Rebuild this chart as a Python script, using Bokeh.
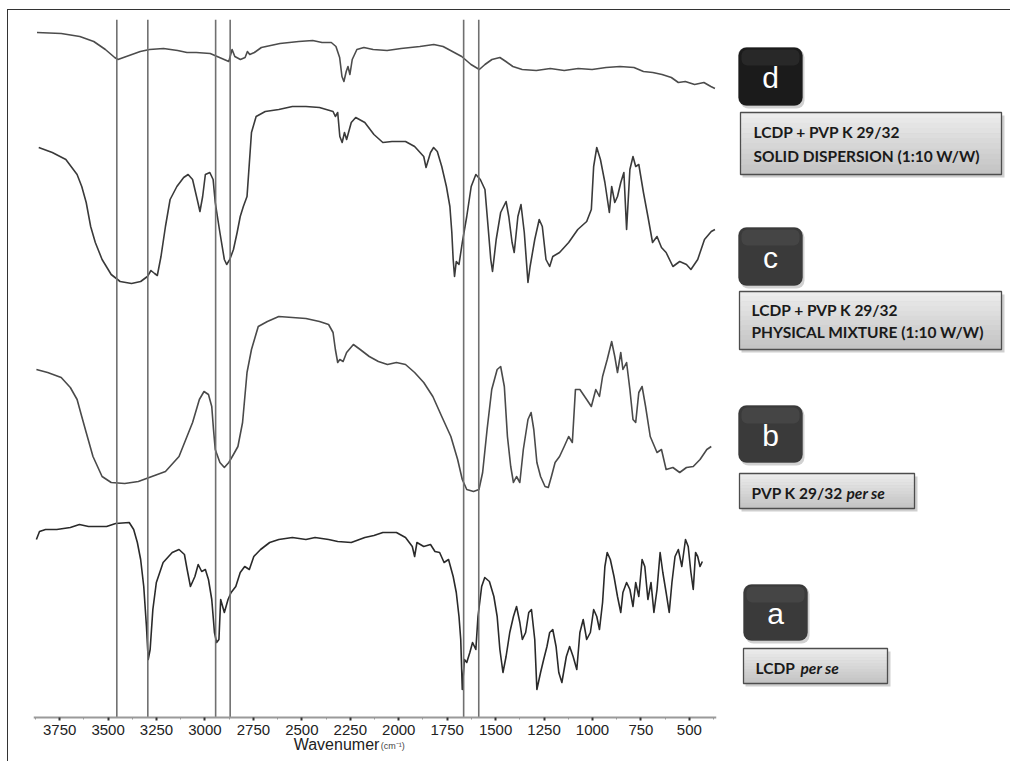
from bokeh.plotting import figure
from bokeh.models import Range1d, Label, BoxAnnotation, FixedTicker
from bokeh.layouts import row
from bokeh.embed import file_html
from bokeh.resources import INLINE

# ---------------- data ----------------
# a : LCDP per se
wn_a = [3870, 3854, 3823, 3765, 3695, 3648, 3601, 3555, 3508, 3461, 3391, 3368, 3349, 3332, 3316,
        3302, 3293, 3283, 3269, 3251, 3216, 3169, 3134, 3106, 3092, 3075, 3052, 3035, 3017, 2998,
        2982, 2965, 2951, 2940, 2928, 2919, 2900, 2881, 2865, 2841, 2818, 2795, 2771, 2748, 2713,
        2666, 2619, 2549, 2479, 2432, 2362, 2315, 2245, 2175, 2128, 2082, 2012, 1965, 1930, 1918,
        1906, 1871, 1836, 1813, 1789, 1766, 1743, 1719, 1703, 1689, 1680, 1672, 1661, 1649, 1633,
        1619, 1602, 1591, 1572, 1556, 1532, 1509, 1492, 1478, 1462, 1446, 1427, 1408, 1392, 1375,
        1362, 1345, 1329, 1315, 1298, 1287, 1268, 1252, 1235, 1221, 1205, 1188, 1174, 1158, 1135,
        1118, 1100, 1081, 1065, 1048, 1030, 1011, 994, 978, 964, 948, 936, 924, 908, 889, 871, 854,
        843, 824, 807, 791, 777, 761, 744, 730, 714, 698, 683, 667, 651, 637, 620, 604, 590, 574,
        557, 539, 520, 506, 492, 480, 468, 457, 445, 433]
t_a = [178, 186, 188, 188, 190, 193, 191, 191, 191, 194, 195, 188, 175, 158, 131,
       91, 58, 68, 108, 135, 155, 165, 168, 163, 148, 131, 141, 153, 146, 148,
       138, 118, 85, 75, 78, 118, 105, 118, 125, 131, 145, 151, 148, 161, 168,
       175, 178, 180, 178, 180, 178, 176, 175, 180, 182, 185, 185, 180, 171, 161,
       175, 171, 173, 166, 165, 155, 158, 141, 125, 101, 78, 28, 58, 55, 65,
       75, 68, 101, 131, 140, 136, 121, 101, 68, 45, 61, 85, 101, 111, 95,
       78, 85, 105, 108, 78, 28, 45, 58, 71, 85, 88, 71, 45, 35, 61,
       71, 61, 48, 85, 98, 78, 85, 108, 101, 88, 115, 151, 165, 158, 141, 121, 105,
       125, 135, 128, 111, 135, 121, 158, 151, 118, 135, 105, 128, 165, 145, 125, 105, 135, 161,
       168, 151, 178, 171, 145, 128, 165, 161, 151, 156]

# b : PVP K 29/32 per se
wn_b = [3870, 3812, 3742, 3695, 3660, 3636, 3613, 3578, 3531, 3484, 3414, 3344, 3274, 3204, 3134,
        3064, 3029, 3005, 2982, 2965, 2956, 2947, 2923, 2900, 2877, 2853, 2830, 2806, 2783, 2760,
        2725, 2678, 2619, 2549, 2479, 2409, 2362, 2339, 2327, 2315, 2304, 2287, 2269, 2234, 2199,
        2152, 2105, 2058, 2012, 1965, 1918, 1871, 1824, 1778, 1731, 1696, 1672, 1649, 1614, 1586,
        1567, 1544, 1520, 1492, 1474, 1455, 1439, 1422, 1408, 1392, 1375, 1357, 1333, 1317, 1303,
        1287, 1268, 1245, 1228, 1212, 1193, 1170, 1146, 1123, 1104, 1088, 1065, 1030, 1006, 983,
        964, 948, 924, 901, 885, 871, 854, 843, 824, 807, 791, 777, 761, 744, 726, 702, 667, 644,
        620, 585, 550, 515, 480, 445, 410, 387]
t_b = [348, 345, 340, 330, 318, 301, 285, 261, 241, 235, 234, 236, 241, 246, 261,
       295, 318, 326, 323, 311, 288, 268, 255, 250, 255, 263, 271, 295, 345, 368,
       391, 396, 401, 400, 399, 396, 393, 385, 368, 355, 358, 356, 365, 373, 368,
       361, 356, 353, 355, 353, 345, 335, 321, 301, 281, 258, 238, 228, 226, 228,
       245, 288, 328, 348, 351, 331, 281, 251, 235, 241, 235, 268, 298, 305, 288,
       255, 241, 231, 230, 241, 255, 261, 271, 281, 275, 328, 328, 318, 311, 328,
       321, 341, 358, 376, 361, 345, 365, 348, 355, 328, 298, 295, 325, 331, 311, 281, 265, 268,
       248, 250, 245, 250, 251, 258, 268, 271]

# c : LCDP + PVP K 29/32 physical mixture (1:10 w/w)
wn_c = [3858, 3788, 3718, 3660, 3636, 3613, 3590, 3566, 3531, 3484, 3438, 3379, 3332, 3297, 3279,
        3260, 3246, 3227, 3204, 3180, 3145, 3110, 3087, 3064, 3040, 3026, 3012, 2998, 2975, 2958,
        2947, 2923, 2900, 2888, 2872, 2853, 2834, 2818, 2802, 2783, 2760, 2736, 2689, 2619, 2549,
        2479, 2409, 2339, 2327, 2315, 2304, 2292, 2280, 2269, 2245, 2222, 2175, 2128, 2082, 2035,
        1965, 1918, 1871, 1859, 1836, 1820, 1801, 1778, 1754, 1736, 1726, 1719, 1712, 1703, 1689,
        1672, 1649, 1626, 1602, 1579, 1555, 1539, 1525, 1516, 1497, 1474, 1446, 1432, 1415, 1404,
        1385, 1369, 1352, 1333, 1322, 1298, 1275, 1259, 1240, 1221, 1205, 1170, 1123, 1076, 1030,
        1006, 994, 978, 959, 936, 913, 901, 885, 871, 854, 838, 824, 807, 791, 777, 761, 737, 714,
        690, 667, 644, 620, 585, 550, 515, 492, 457, 422, 387, 368]
t_c = [570, 565, 558, 543, 531, 515, 491, 475, 458, 443, 436, 434, 436, 441, 447,
       444, 442, 461, 491, 518, 531, 540, 543, 538, 518, 506, 521, 543, 545, 538,
       515, 485, 458, 453, 458, 468, 485, 501, 511, 521, 585, 601, 606, 608, 611,
       611, 610, 606, 601, 605, 581, 575, 585, 578, 595, 600, 595, 583, 575, 576,
       576, 571, 561, 550, 565, 570, 566, 551, 531, 511, 485, 458, 441, 456, 453,
       475, 501, 531, 543, 538, 528, 491, 458, 446, 478, 505, 516, 501, 475, 465,
       501, 513, 485, 435, 451, 478, 498, 491, 458, 451, 461, 465, 475, 488, 496,
       508, 551, 570, 558, 535, 505, 531, 515, 521, 535, 545, 488, 548, 561, 551, 553, 525, 501,
       475, 481, 470, 465, 451, 456, 453, 448, 458, 478, 486, 488]

# d : LCDP + PVP K 29/32 solid dispersion (1:10 w/w)
wn_d = [3867, 3742, 3646, 3574, 3514, 3466, 3449, 3406, 3334, 3286, 3214, 3141, 3093, 3045, 2973,
        2937, 2901, 2877, 2860, 2846, 2817, 2793, 2781, 2769, 2745, 2709, 2613, 2516, 2444, 2396,
        2348, 2324, 2305, 2293, 2283, 2271, 2262, 2252, 2240, 2216, 2180, 2132, 2060, 1988, 1891,
        1819, 1771, 1723, 1675, 1627, 1584, 1555, 1519, 1478, 1447, 1411, 1363, 1290, 1218, 1146,
        1074, 1002, 930, 858, 786, 737, 689, 641, 593, 557, 521, 473, 425, 389, 368]
t_d = [685, 684, 681, 676, 668, 660, 658, 661, 666, 668, 669, 667, 665, 665, 664,
       661, 658, 656, 668, 661, 658, 660, 666, 663, 665, 670, 674, 676, 677, 675,
       675, 671, 660, 641, 636, 646, 651, 643, 658, 668, 670, 668, 667, 669, 671,
       673, 671, 666, 661, 653, 648, 653, 658, 660, 656, 651, 648, 647, 649, 647,
       649, 648, 650, 651, 650, 646, 645, 643, 640, 635, 636, 633, 635, 631, 629]

# marked band positions (cm-1)
band_marks = [3455, 3295, 2945, 2870, 1665, 1587]

# x-axis ticks
tick_values = [3750, 3500, 3250, 3000, 2750, 2500, 2250, 2000, 1750, 1500, 1250, 1000, 750, 500]
minor_values = [3875, 3625, 3375, 3125, 2875, 2625, 2375, 2125, 1875, 1625, 1375, 1125, 875, 625, 375]

# axis title
x_title = "Wavenumer"
x_unit = "(cm⁻¹)"

# legend entries
legend_letters = ["d", "c", "b", "a"]
legend_lines = [
    ["LCDP + PVP  K 29/32", "SOLID DISPERSION (1:10 W/W)"],
    ["LCDP + PVP  K 29/32", "PHYSICAL MIXTURE  (1:10 W/W)"],
    ["PVP K 29/32"],
    ["LCDP"],
]
legend_italic = ["", "", "per se", "per se"]

# ---------------- spectra panel ----------------
FIG_H = 751
TOP = 9
Y_TOP = 698      # top of the plotting area (offset units)
Y_BOTTOM = -44   # room below the baseline for tick labels and the axis title

pA = figure(width=712, height=FIG_H, x_range=Range1d(3885, 360), y_range=Range1d(Y_BOTTOM, Y_TOP),
            output_backend="svg", toolbar_location=None,
            min_border_left=25, min_border_right=4, min_border_top=TOP, min_border_bottom=0,
            y_axis_location=None)
pA.grid.visible = False
pA.outline_line_color = None
pA.background_fill_color = "white"

trace_colors = ["#2a2a2a", "#4a4a4a", "#3a3a3a", "#4c4c4c"]
for xs, ys, col in [(wn_a, t_a, trace_colors[0]), (wn_b, t_b, trace_colors[1]),
                    (wn_c, t_c, trace_colors[2]), (wn_d, t_d, trace_colors[3])]:
    pA.line(xs, ys, line_color=col, line_width=1.6, line_join="round")

pA.segment(x0=band_marks, y0=[0] * len(band_marks), x1=band_marks, y1=[Y_TOP] * len(band_marks),
           line_color="#707070", line_width=1.6)

ax = pA.xaxis[0]
ax.fixed_location = 0
ax.ticker = FixedTicker(ticks=tick_values, minor_ticks=minor_values)
ax.axis_line_color = "#9a9a9a"
ax.axis_line_width = 2
ax.major_tick_line_color = "#333333"
ax.major_tick_line_width = 2
ax.major_tick_out = 3
ax.major_tick_in = 0
ax.minor_tick_line_color = "#999999"
ax.minor_tick_out = 2
ax.minor_tick_in = 0
ax.major_label_standoff = 4
ax.major_label_text_font = "Liberation Sans"
ax.major_label_text_font_size = "15px"
ax.major_label_text_color = "#222222"

pA.add_layout(Label(x=2321, y=-27, text=x_title, text_align="center", text_baseline="middle",
                    text_font="Liberation Sans", text_font_size="16px", text_color="#222222"))
pA.add_layout(Label(x=2093, y=-28, text=x_unit, text_align="left", text_baseline="middle",
                    text_font="Liberation Sans", text_font_size="9px", text_color="#444444"))

# ---------------- legend panel ----------------
pB = figure(width=290, height=FIG_H, x_range=Range1d(720, 1010), y_range=Range1d(761, 19),
            output_backend="svg", toolbar_location=None,
            min_border_left=0, min_border_right=0, min_border_top=TOP, min_border_bottom=0,
            x_axis_location=None, y_axis_location=None)
pB.grid.visible = False
pB.outline_line_color = None

dark_boxes = [(738, 802, 47, 105), (738, 802, 227, 285), (738, 802, 405, 462), (743, 807, 584, 640)]
dark_fill = ["#1b1b1b", "#3a3a3a", "#3a3a3a", "#3a3a3a"]
label_boxes = [(740, 1001, 112, 174), (739, 1001, 291, 349), (739, 914, 473, 508), (743, 887, 648, 683)]
text_rows = [[131, 155], [309, 331], [492], [667]]
text_left = [753, 751, 751, 755]
italic_left = [None, None, 846, 800]

for i in range(4):
    l, r, t, b = dark_boxes[i]
    pB.add_layout(BoxAnnotation(left=l + 2, right=r + 2, top=t + 2, bottom=b + 3, fill_color="#bdbdbd",
                                fill_alpha=0.7, line_color=None, border_radius=8))
    pB.add_layout(BoxAnnotation(left=l, right=r, top=t, bottom=b, fill_color=dark_fill[i], fill_alpha=1,
                                line_color="#222222", line_width=1, border_radius=8))
    pB.add_layout(BoxAnnotation(left=l + 3, right=r - 3, top=t + 2, bottom=t + 18,
                                fill_color="#ffffff", fill_alpha=0.06, line_color=None, border_radius=6))
    pB.add_layout(Label(x=(l + r) / 2, y=(t + b) / 2 + 1, text=legend_letters[i], text_align="center",
                        text_baseline="middle", text_font="Liberation Sans", text_font_size="30px",
                        text_color="white"))

    l, r, t, b = label_boxes[i]
    pB.quad(left=[l + 2], right=[r + 3], top=[t + 3], bottom=[b + 3], fill_color="#cfcfcf",
            line_color=None)
    n = 12
    h = (b - t) / n
    for k in range(n):
        g = int(236 - (236 - 196) * k / (n - 1))
        pB.quad(left=[l], right=[r], top=[t + k * h], bottom=[t + (k + 1) * h + 0.3],
                fill_color="#%02x%02x%02x" % (g, g, g), line_color=None)
    pB.quad(left=[l], right=[r], top=[t], bottom=[b], fill_color=None, line_color="#4d4d4d",
            line_width=1.3)
    for j, yy in enumerate(text_rows[i]):
        pB.add_layout(Label(x=text_left[i], y=yy, text=legend_lines[i][j], text_align="left",
                            text_baseline="middle", text_font="Lato", text_font_size="15.5px",
                            text_font_style="bold", text_color="#1a1a1a"))
    if italic_left[i] is not None:
        pB.add_layout(Label(x=italic_left[i], y=text_rows[i][0], text=legend_italic[i], text_align="left",
                            text_baseline="middle", text_font="Lato", text_font_size="15.5px",
                            text_font_style="bold italic", text_color="#1a1a1a"))

layout = row(pA, pB, margin=(9, 0, 0, 7),
             styles={"border-top": "1px solid #333333", "border-left": "1px solid #333333"})

open("out.html", "w").write(file_html(layout, INLINE))
